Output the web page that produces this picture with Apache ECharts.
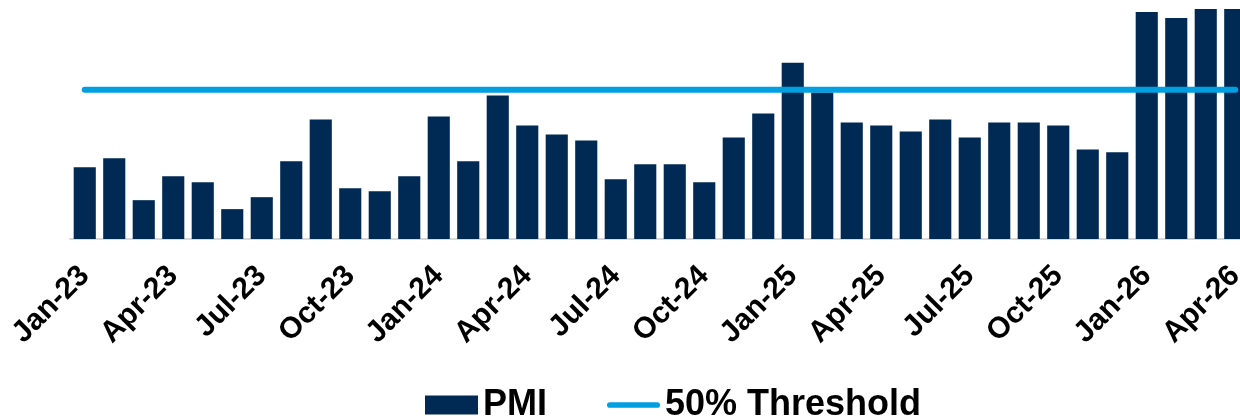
<!DOCTYPE html>
<html>
<head>
<meta charset="utf-8">
<script src="https://cdn.jsdelivr.net/npm/echarts@6/dist/echarts.min.js"></script>
<style>
  html, body { margin: 0; padding: 0; background: #fff; overflow: hidden; }
  /* the last bar is cut by the right edge in the original, so the chart runs a bit past the window */
  #main { width: 1250px; height: 419px; }
</style>
</head>
<body>
<div id="main"></div>
<script>
// months Jan-23 .. Apr-26
const months = [
  'Jan-23', 'Feb-23', 'Mar-23', 'Apr-23', 'May-23', 'Jun-23', 'Jul-23', 'Aug-23', 'Sep-23', 'Oct-23', 'Nov-23', 'Dec-23',
  'Jan-24', 'Feb-24', 'Mar-24', 'Apr-24', 'May-24', 'Jun-24', 'Jul-24', 'Aug-24', 'Sep-24', 'Oct-24', 'Nov-24', 'Dec-24',
  'Jan-25', 'Feb-25', 'Mar-25', 'Apr-25', 'May-25', 'Jun-25', 'Jul-25', 'Aug-25', 'Sep-25', 'Oct-25', 'Nov-25', 'Dec-25',
  'Jan-26', 'Feb-26', 'Mar-26', 'Apr-26'
]
const pmi = [
  47.4, 47.7, 46.3, 47.1, 46.9, 46.0, 46.4, 47.6, 49.0, 46.7, 46.6, 47.1,
  49.1, 47.6, 49.8, 48.8, 48.5, 48.3, 47.0, 47.5, 47.5, 46.9, 48.4, 49.2,
  50.9, 49.9, 48.9, 48.8, 48.6, 49.0, 48.4, 48.9, 48.9, 48.8, 48.0, 47.9,
  52.6, 52.4, 52.7, 52.7
]
const threshold = months.map(() => 50)

const fontFamily = '"Liberation Sans", Arial, sans-serif'

const chart = echarts.init(document.getElementById('main'))
chart.setOption({
  animation: false,
  textStyle: { fontFamily: fontFamily },
  grid: {
    left: 70,
    right: 0,
    top: 0,
    bottom: 180,
    containLabel: false
  },
  legend: {
    left: 420,
    top: 382,
    itemWidth: 53,
    itemHeight: 19,
    itemGap: 60,
    textStyle: {
      fontSize: 36,
      fontWeight: 'bold',
      color: '#000',
      fontFamily: fontFamily
    },
    data: [
      { name: 'PMI', icon: 'rect' },
      // rounded bar so the legend shows a plain line, no marker
      { name: '50% Threshold', icon: 'path://M3,0 L53,0 A3,3 0 0 1 53,6 L3,6 A3,3 0 0 1 3,0 Z' }
    ]
  },
  xAxis: {
    type: 'category',
    data: months,
    axisLine: { lineStyle: { color: '#d9d9d9', width: 2 } },
    axisTick: { show: false },
    axisLabel: {
      interval: 2,
      rotate: 45,
      margin: 32,
      fontSize: 30,
      fontWeight: 'bold',
      color: '#000',
      fontFamily: fontFamily
    }
  },
  yAxis: {
    type: 'value',
    min: 45,
    max: 53,
    show: false,
    splitLine: { show: false }
  },
  series: [
    {
      name: 'PMI',
      type: 'bar',
      data: pmi,
      barCategoryGap: '25%',
      itemStyle: { color: '#002A54' }
    },
    {
      name: '50% Threshold',
      type: 'line',
      data: threshold,
      symbol: 'none',
      lineStyle: { color: '#009FDF', width: 6, cap: 'round' },
      itemStyle: { color: '#009FDF' }
    }
  ]
})
</script>
</body>
</html>
